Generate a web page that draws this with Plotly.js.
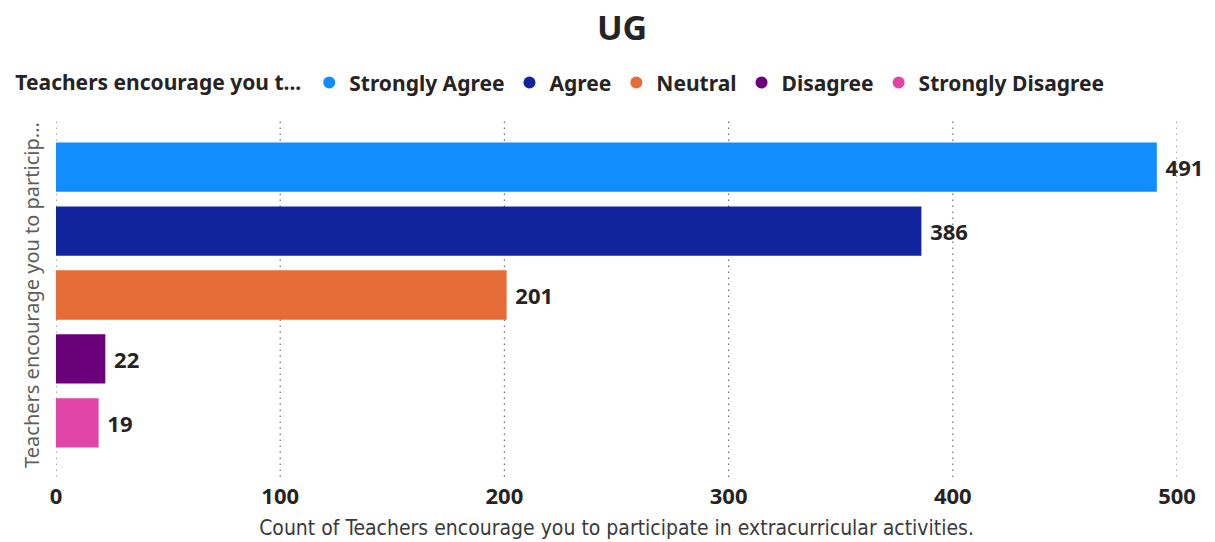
<!DOCTYPE html>
<html>
<head>
<meta charset="utf-8">
<script src="https://cdn.plot.ly/plotly-3.0.1.min.js"></script>
<style>html,body{margin:0;padding:0;background:#fff;}#chart{width:1215px;height:542px;}</style>
</head>
<body>
<div id="chart"></div>
<script>
const category = ["Teachers encourage you to participate in extracurricular activities."];
const seriesNames = ["Strongly Agree", "Agree", "Neutral", "Disagree", "Strongly Disagree"];
const seriesValues = [491, 386, 201, 22, 19];
const seriesColors = ["#118DFF", "#12239E", "#E66C37", "#6B007B", "#E044A7"];
const xTicks = [0, 100, 200, 300, 400, 500];

const FONT = "'Noto Sans', 'Open Sans', sans-serif";
const traces = [];
seriesNames.forEach((name, i) => {
  traces.push({
    type: "bar",
    orientation: "h",
    name: name,
    y: category,
    x: [seriesValues[i]],
    marker: {color: seriesColors[i]},
    text: ["\u00a0" + String(seriesValues[i])],
    textposition: "outside",
    cliponaxis: false,
    textfont: {family: FONT, size: 22, color: "#252423", weight: "bold"},
    showlegend: false,
    legendgroup: name,
    hoverinfo: "x+name"
  });
});
seriesNames.forEach((name, i) => {
  traces.push({
    type: "scatter",
    mode: "markers",
    name: name,
    x: [null],
    y: [null],
    marker: {color: seriesColors[i], size: 14, symbol: "circle"},
    legendgroup: name,
    showlegend: true
  });
});

const gridShapes = xTicks.map(v => ({
  type: "line", xref: "x", yref: "paper",
  x0: v, x1: v, y0: -0.02, y1: 1,
  line: {color: "#6f6f6f", width: 1.2, dash: "1.5px,4.5px"},
  layer: "below"
}));

const layout = {
  width: 1215,
  height: 542,
  paper_bgcolor: "#ffffff",
  plot_bgcolor: "#ffffff",
  margin: {l: 56, r: 38, t: 120, b: 72},
  title: {
    text: "<b>UG</b>",
    font: {family: FONT, size: 34, color: "#252423"},
    x: 0.512, xanchor: "center",
    y: 0.948, yanchor: "middle",
    yref: "container"
  },
  barmode: "group",
  bargap: 0.086,
  bargroupgap: 0.23,
  showlegend: true,
  legend: {
    orientation: "h",
    xref: "container", yref: "container",
    x: 0.011, xanchor: "left",
    y: 0.847, yanchor: "middle",
    title: {text: "<b>Teachers encourage you t...</b>", font: {family: FONT, size: 21, color: "#252423"}, side: "left"},
    font: {family: FONT, size: 21, color: "#252423", weight: "bold"},
    itemwidth: 30,
    itemsizing: "constant",
    tracegroupgap: 0,
    traceorder: "normal"
  },
  xaxis: {
    range: [0, 500],
    tickvals: xTicks,
    ticktext: xTicks.map(String),
    showgrid: false,
    zeroline: false,
    showline: false,
    ticks: "outside",
    ticklen: 7,
    tickcolor: "rgba(0,0,0,0)",
    tickfont: {family: FONT, size: 22, color: "#252423", weight: "bold"},
    title: {
      text: "\u00a0\u00a0\u00a0\u00a0\u00a0\u00a0\u00a0Count of Teachers encourage you to participate in extracurricular activities.",
      font: {family: "'DejaVu Sans Condensed', 'Liberation Sans Narrow', 'Roboto', sans-serif", size: 21, color: "#3a3a3a"},
      standoff: 10
    },
    automargin: false,
    fixedrange: true
  },
  yaxis: {
    autorange: "reversed",
    showticklabels: false,
    showgrid: false,
    zeroline: false,
    showline: false,
    ticks: "",
    title: {
      text: "Teachers encourage you to particip...",
      font: {family: FONT, size: 20, color: "#605E5C"},
      standoff: 10
    },
    automargin: false,
    fixedrange: true
  },
  shapes: gridShapes
};

Plotly.newPlot("chart", traces, layout, {displayModeBar: false, staticPlot: true});
</script>
</body>
</html>
